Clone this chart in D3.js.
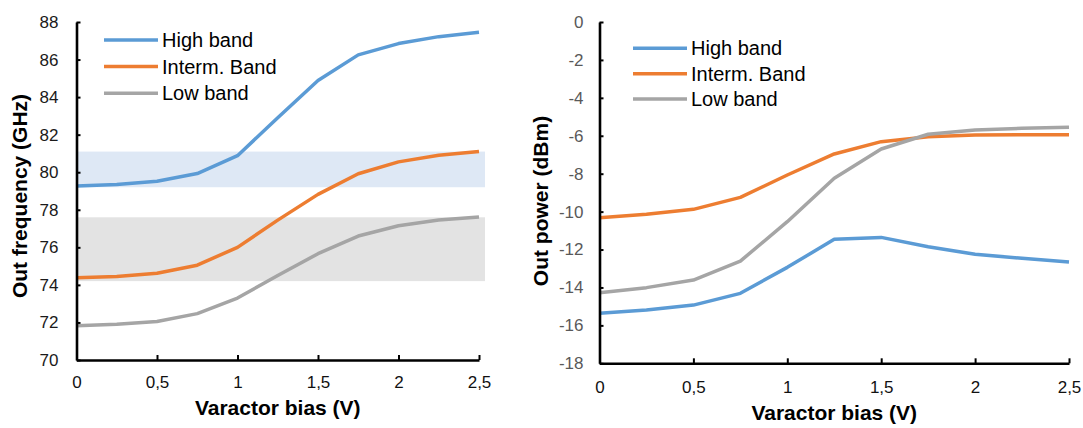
<!DOCTYPE html>
<html>
<head>
<meta charset="utf-8">
<script src="https://cdn.jsdelivr.net/npm/d3@7"></script>
<style>
  html, body { margin: 0; padding: 0; background: #fff; }
  svg { display: block; font-family: "Liberation Sans", Arial, sans-serif; }
</style>
</head>
<body>
<svg id="chart" width="1083" height="428"></svg>
<script>
// ---- data ----
const bias = [0, 0.25, 0.5, 0.75, 1, 1.25, 1.5, 1.75, 2, 2.25, 2.5];
const seriesNames = ["High band", "Interm. Band", "Low band"];
const seriesColors = ["#5b9bd5", "#ed7d31", "#a5a5a5"];

const freqHigh   = [79.27, 79.35, 79.52, 79.93, 80.88, 82.9, 84.88, 86.25, 86.85, 87.22, 87.45];
const freqInterm = [74.38, 74.45, 74.62, 75.05, 76.0, 77.45, 78.82, 79.92, 80.55, 80.9, 81.1];
const freqLow    = [71.82, 71.9, 72.05, 72.47, 73.3, 74.5, 75.66, 76.6, 77.15, 77.45, 77.62];

const powHigh   = [-15.36, -15.19, -14.93, -14.31, -12.94, -11.46, -11.36, -11.85, -12.25, -12.46, -12.66];
const powInterm = [-10.32, -10.14, -9.88, -9.25, -8.07, -6.96, -6.31, -6.05, -5.96, -5.95, -5.94];
const powLow    = [-14.28, -14.01, -13.61, -12.61, -10.53, -8.24, -6.70, -5.92, -5.70, -5.61, -5.55];

const bandHighRange = [79.2, 81.1];
const bandLowRange  = [74.2, 77.6];

const xTicks = [0, 0.5, 1, 1.5, 2, 2.5];
const freqTicks = [70, 72, 74, 76, 78, 80, 82, 84, 86, 88];
const powTicks = [-18, -16, -14, -12, -10, -8, -6, -4, -2, 0];

// ---- drawing ----
const svg = d3.select("#chart");
const fmtX = d => String(d).replace(".", ",");

function drawPanel(cfg) {
  const g = svg.append("g");
  const x = d3.scaleLinear().domain([0, 2.5]).range([cfg.x0, cfg.x1]);
  const y = d3.scaleLinear().domain(cfg.yDomain).range([cfg.yBottom, cfg.yTop]);

  // bands
  (cfg.bands || []).forEach(b => {
    g.append("rect")
      .attr("x", x(0))
      .attr("width", x(2.5) - x(0) + 6)
      .attr("y", y(b.range[1]))
      .attr("height", y(b.range[0]) - y(b.range[1]))
      .attr("fill", b.color);
  });

  // lines
  const line = d3.line().x((d, i) => x(bias[i])).y(d => y(d));
  cfg.series.forEach((s, i) => {
    g.append("path")
      .datum(s)
      .attr("d", line)
      .attr("fill", "none")
      .attr("stroke", seriesColors[i])
      .attr("stroke-width", 3.5)
      .attr("stroke-linejoin", "round");
  });

  // axes
  const yAxis = d3.axisLeft(y).tickValues(cfg.yTicks).tickFormat(d => String(d))
    .tickSizeInner(-4).tickSizeOuter(0).tickPadding(cfg.yPad);
  const ga = g.append("g").attr("transform", `translate(${cfg.x0},0)`).call(yAxis);
  ga.selectAll("text").attr("font-size", 17).attr("fill", cfg.yLabelColor)
    .attr("font-family", "Liberation Sans, Arial, sans-serif");

  const xAxis = d3.axisBottom(x).tickValues(xTicks).tickFormat(fmtX)
    .tickSizeInner(-5).tickSizeOuter(0).tickPadding(cfg.xPad);
  const gx = g.append("g").attr("transform", `translate(0,${cfg.yBottom})`).call(xAxis);
  gx.selectAll("text").attr("font-size", 17).attr("fill", "#111")
    .attr("font-family", "Liberation Sans, Arial, sans-serif");

  [ga, gx].forEach(a => {
    a.select(".domain").attr("stroke", "#000").attr("stroke-width", 2.6);
    a.selectAll(".tick line").attr("stroke", "#000").attr("stroke-width", 2);
  });

  // axis titles
  g.append("text")
    .attr("x", (cfg.x0 + cfg.x1) / 2)
    .attr("y", cfg.xTitleY)
    .attr("text-anchor", "middle")
    .attr("font-size", 21).attr("font-weight", "bold").attr("fill", "#000")
    .text("Varactor bias (V)");
  g.append("text")
    .attr("transform", `translate(${cfg.yTitleX},${cfg.yTitleCY}) rotate(-90)`)
    .attr("text-anchor", "middle")
    .attr("font-size", 21).attr("font-weight", "bold").attr("fill", "#000")
    .text(cfg.yTitle);

  // legend
  seriesNames.forEach((n, i) => {
    const ly = cfg.legY + i * cfg.legDy;
    g.append("line")
      .attr("x1", cfg.legX).attr("x2", cfg.legX + 54)
      .attr("y1", ly).attr("y2", ly)
      .attr("stroke", seriesColors[i]).attr("stroke-width", 3.5);
    g.append("text")
      .attr("x", cfg.legX + 58).attr("y", ly + 7)
      .attr("font-size", 20).attr("fill", "#000")
      .text(n);
  });
}

drawPanel({
  x0: 76.5, x1: 479, yTop: 22, yBottom: 360, yDomain: [70, 88],
  yTicks: freqTicks, yPad: 18, xPad: 16, yLabelColor: "#1a1a1a",
  series: [freqHigh, freqInterm, freqLow],
  bands: [{ range: bandHighRange, color: "#dee8f5" }, { range: bandLowRange, color: "#e3e3e3" }],
  xTitleY: 415, yTitleX: 27, yTitleCY: 196, yTitle: "Out frequency (GHz)",
  legX: 104, legY: 40, legDy: 26.6
});

drawPanel({
  x0: 599.5, x1: 1069, yTop: 22, yBottom: 363.3, yDomain: [-18, 0],
  yTicks: powTicks, yPad: 16, xPad: 18, yLabelColor: "#595959",
  series: [powHigh, powInterm, powLow],
  bands: [],
  xTitleY: 420, yTitleX: 548, yTitleCY: 201, yTitle: "Out power (dBm)",
  legX: 633, legY: 48.3, legDy: 25.4
});
</script>
</body>
</html>
